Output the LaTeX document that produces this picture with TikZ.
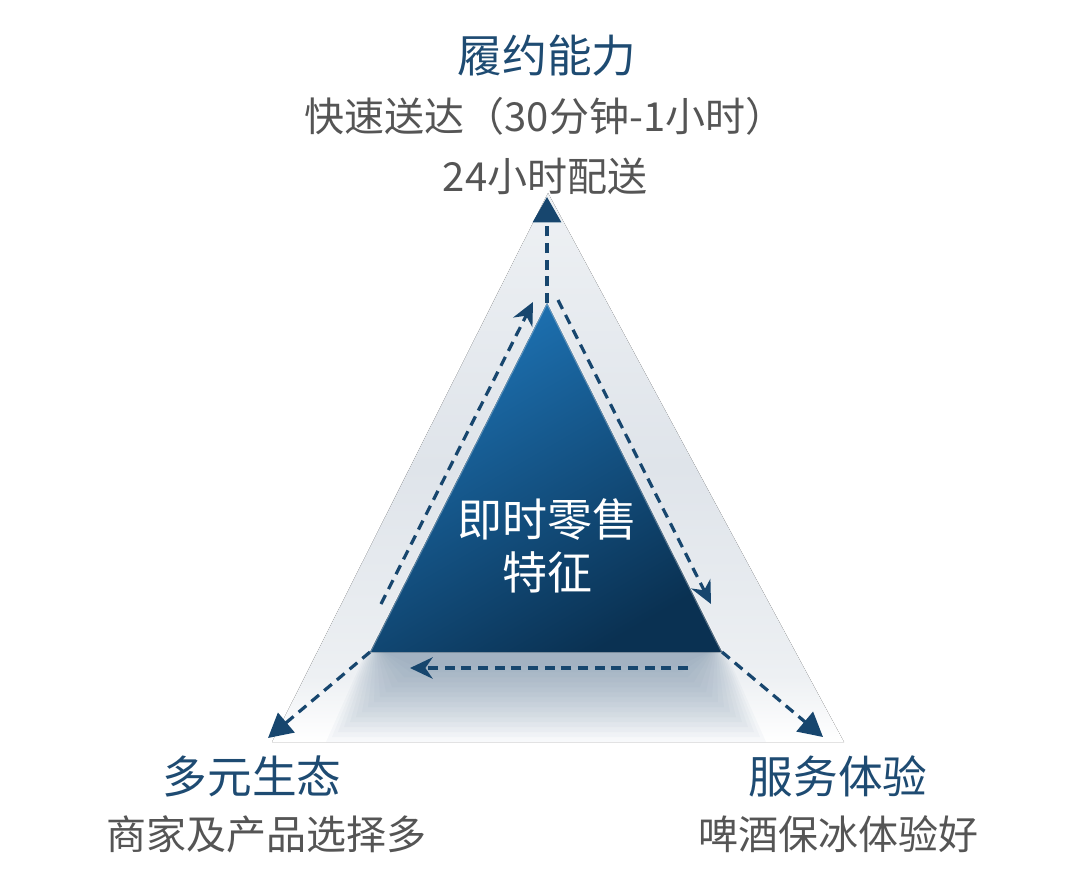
\documentclass[tikz,border=0pt]{standalone}
\usepackage{fontspec}
\newfontfamily\cjk{Noto Sans CJK SC}
\usetikzlibrary{arrows.meta}
\definecolor{navy}{HTML}{17466E}
\definecolor{titleblue}{HTML}{1E4B72}
\definecolor{subgray}{HTML}{555555}
\definecolor{triTop}{HTML}{1E74B6}
\definecolor{triBot}{HTML}{0A3152}
\definecolor{outA}{HTML}{EEF1F4}
\definecolor{outB}{HTML}{DFE4EA}
\definecolor{outC}{HTML}{EDF0F3}
\definecolor{shadowcol}{HTML}{5D7B99}
\pgfdeclareverticalshading{outershade}{100bp}{color(0bp)=(white); color(25bp)=(white); color(31bp)=(outC); color(50bp)=(outB); color(75bp)=(outA); color(100bp)=(outA)}
\tikzset{
  titletext/.style={font=\cjk\fontsize{33.5}{38}\selectfont, text=titleblue, inner sep=0pt},
  subtext/.style={font=\cjk\fontsize{30}{36}\selectfont, text=subgray, inner sep=0pt},
  centertext/.style={font=\cjk\fontsize{33.75}{40}\selectfont, text=white, align=center, inner sep=0pt},
  dashline/.style={draw=navy, line width=2.4pt, dash pattern=on 7.5pt off 5pt},
  outarrow/.style={dashline, -{Triangle[length=18pt,width=19pt]}},
  outarrowtop/.style={dashline, -{Triangle[length=19pt,width=21pt]}},
  cyclearrow/.style={dashline, -{Stealth[length=17pt,width=16pt,inset=5.5pt]}},
  shadowlayer/.style={fill=shadowcol, fill opacity=0.04}
}
\begin{document}
\begin{tikzpicture}[x=0.75pt,y=-0.75pt]
\useasboundingbox (0,0) rectangle (1080,891);
% named points
\coordinate (A) at (547,303);
\coordinate (B) at (370,652);
\coordinate (C) at (722,652);
\coordinate (OA) at (548,193);
\coordinate (OB) at (272,742);
\coordinate (OC) at (844,742);
\coordinate (topTip) at (547,197);
\coordinate (blTip) at (268,738);
\coordinate (brTip) at (823,737);
\coordinate (lS) at (381,604);
\coordinate (lE) at (533,302);
\coordinate (rS) at (558,300);
\coordinate (rE) at (711,604);
\coordinate (bS) at (688,668);
\coordinate (bE) at (410,668);
% outer light triangle
\fill[shading=outershade] (OA) -- (OB) -- (OC) -- cycle;
% soft shadow under base
\foreach \k in {0,...,15}{
  \fill[shadowlayer] ({366+1.2*\k},652) -- ({726-1.2*\k},652) -- ({766-6*\k},{742-5*\k}) -- ({326+6*\k},{742-5*\k}) -- cycle;
}
% inner triangle
\fill[top color=triTop, bottom color=triBot, shading angle=30] (A) -- (B) -- (C) -- cycle;
\draw[white, opacity=0.3, line width=1.5pt] (B) -- (A) -- (C);
% arrows
\draw[outarrowtop] (A) -- (topTip);
\draw[outarrow] (B) -- (blTip);
\draw[outarrow] (C) -- (brTip);
\draw[cyclearrow] (lS) -- (lE);
\draw[cyclearrow] (rS) -- (rE);
\draw[cyclearrow] (bS) -- (bE);
% texts
\node[titletext] (t1) at (547,56) {履约能力};
\node[subtext] (t1a) at (545,116) {快速送达（30分钟-1小时）};
\node[subtext] (t1b) at (545,176) {24小时配送};
\node[titletext] (t2) at (252,776) {多元生态};
\node[subtext] (t2a) at (266,834) {商家及产品选择多};
\node[titletext] (t3) at (838,776) {服务体验};
\node[subtext] (t3a) at (838,834) {啤酒保冰体验好};
\node[centertext] (ct) at (547,546) {即时零售\\特征};
\end{tikzpicture}
\end{document}
